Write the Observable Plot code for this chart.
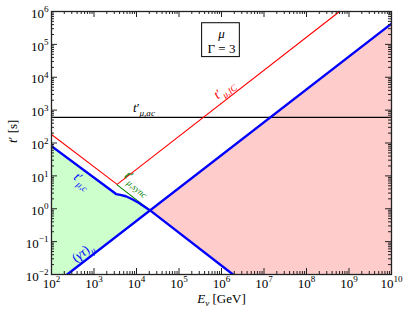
<!DOCTYPE html>
<html><head><meta charset="utf-8">
<script src="https://cdn.jsdelivr.net/npm/d3@7"></script>
<script src="https://cdn.jsdelivr.net/npm/@observablehq/plot@0.6"></script>
<style>
body{margin:0;background:#fff}
#chart svg, #chart svg text, #chart svg tspan { font-family: "Liberation Serif", "DejaVu Serif", serif !important; }
</style>
</head><body><div id="chart"></div>
<script>
// ---- data ----
const E_cool = [1e2, 3.31e3, 4.17e3, 5.62e3, 7.94e3, 1.12e4, 2.09e4, 1.86e6];
const t_cool = [80, 2.8, 2.63, 2.4, 1.95, 1.52, 0.89, 0.01];
const E_ic = [1e2, 3.5e3, 6e8];
const t_ic = [182, 5.5, 1e6];
const E_sync = [3.5e3, 2.09e4];
const t_sync = [5.3, 0.89];
const E_decay = [234, 1e10];
const t_decay = [0.01, 4.27e5];
const t_ac = [600];
const E_green = [1e2, 234, 3.31e3, 4.17e3, 5.62e3, 7.94e3, 1.12e4, 2.09e4];
const green_low = [0.01, 0.01, 0.141, 0.178, 0.251, 0.355, 0.5, 0.89];
const green_high = [80, 35, 2.8, 2.63, 2.4, 1.95, 1.52, 0.89];
const E_pink = [2.09e4, 1.86e6, 1e10];
const pink_low = [0.89, 0.01, 0.01];
const pink_high = [0.89, 79, 4.27e5];
const xTickExp = [2, 3, 4, 5, 6, 7, 8, 9, 10];
const yTickExp = [-2, -1, 0, 1, 2, 3, 4, 5, 6];

// ---- build ----
const W = 340, H = 263, FS = 13;
const xMajor = xTickExp.map(e => 10 ** e);
const yMajor = yTickExp.map(e => 10 ** e);
const minorOf = exps => exps.slice(0, -1).flatMap(e => [2,3,4,5,6,7,8,9].map(m => m * 10 ** e));
const xMinor = minorOf(xTickExp), yMinor = minorOf(yTickExp);
const series = (xs, ys) => xs.map((x, i) => ({x, y: ys[i]}));
const band = (xs, lo, hi) => xs.map((x, i) => ({x, lo: lo[i], hi: hi[i]}));
const expStr = e => String(e).replace("-", "\u2212");
const tk = "#222";

const chart = Plot.plot({
  width: 407, height: 314,
  marginLeft: 51, marginRight: 16, marginTop: 11, marginBottom: 40,
  style: {fontFamily: "Liberation Serif, serif", fontSize: FS + "px", background: "#fff"},
  x: {type: "log", domain: [1e2, 1e10]},
  y: {type: "log", domain: [1e-2, 1e6]},
  marks: [
    Plot.areaY(band(E_green, green_low, green_high), {x: "x", y1: "lo", y2: "hi", fill: "#ccffcc"}),
    Plot.areaY(band(E_pink, pink_low, pink_high), {x: "x", y1: "lo", y2: "hi", fill: "#ffcccc"}),
    Plot.ruleY(t_ac, {stroke: "#000", strokeWidth: 1.2}),
    Plot.line(series(E_ic, t_ic), {x: "x", y: "y", stroke: "#ff0000", strokeWidth: 1.1, clip: true}),
    Plot.line(series(E_sync, t_sync), {x: "x", y: "y", stroke: "#008000", strokeWidth: 1.1}),
    Plot.line(series(E_cool, t_cool), {x: "x", y: "y", stroke: "#0000ff", strokeWidth: 2.4, clip: true}),
    Plot.line(series(E_decay, t_decay), {x: "x", y: "y", stroke: "#0000ff", strokeWidth: 2.4, clip: true}),
    // ticks (inward, all sides)
    Plot.ruleX(xMajor, {insetTop: H - 6, stroke: tk}),
    Plot.ruleX(xMajor, {insetBottom: H - 6, stroke: tk}),
    Plot.ruleX(xMinor, {insetTop: H - 3, stroke: tk}),
    Plot.ruleX(xMinor, {insetBottom: H - 3, stroke: tk}),
    Plot.ruleY(yMajor, {insetRight: W - 6, stroke: tk}),
    Plot.ruleY(yMajor, {insetLeft: W - 6, stroke: tk}),
    Plot.ruleY(yMinor, {insetRight: W - 3, stroke: tk}),
    Plot.ruleY(yMinor, {insetLeft: W - 3, stroke: tk}),
    Plot.frame({stroke: tk, strokeWidth: 1.3}),
    // tick labels
    Plot.axisX(xMajor, {tickSize: 0, tickPadding: 4, label: null, fontSize: FS,
      tickFormat: d => `10^{${expStr(Math.round(Math.log10(d)))}}`}),
    Plot.axisY(yMajor, {tickSize: 0, tickPadding: 3, label: null, fontSize: FS, dy: 2,
      tickFormat: d => `10^{${expStr(Math.round(Math.log10(d)))}}`}),
    // axis labels
    Plot.text(["$E$_{$ν$} [GeV]"], {frameAnchor: "bottom", dy: 28, fontSize: FS}),
    Plot.text(["$t$′ [s]"], {frameAnchor: "left", dx: -39, rotate: -90, fontSize: FS}),
    // annotations
    Plot.text(["$t$′_{$μ,ac$}"], {x: 1.5e4, y: 1150, fill: "#000", fontSize: FS}),
    Plot.text(["$t$′_{$μ,IC$}"], {x: 1.15e6, y: 4300, fill: "#ff0000", rotate: -37.7, fontSize: FS}),
    Plot.text(["$t$′_{$μ,c$}"], {x: 535, y: 7.2, fill: "#0000ff", rotate: 37.7, fontSize: FS}),
    Plot.text(["$t$′_{$μ,sync$}"], {x: 1.07e4, y: 6.1, fill: "#008000", rotate: 40, fontSize: FS}),
    Plot.text(["($γτ$)_{$μ$}"], {x: 536, y: 0.047, fill: "#0000ff", rotate: -37.7, fontSize: FS}),
    Plot.rect([0], {x1: 3.5e5, x2: 2.7e6, y1: 4.1e4, y2: 4.4e5, fill: "none", stroke: "#000", strokeWidth: 1}),
    Plot.text(["$μ$"], {x: 1e6, y: 2.1e5, fontSize: FS}),
    Plot.text(["Γ = 3"], {x: 1e6, y: 7.5e4, fontSize: FS})
  ]
});
document.getElementById("chart").appendChild(chart);

// ---- light TeX-like formatting into tspans ----
function parseTex(s) {
  const parts = []; let it = false, buf = "", i = 0;
  const flush = () => { if (buf) { parts.push({t: buf, it, pos: 0}); buf = ""; } };
  while (i < s.length) {
    const c = s[i];
    if (c === "$") { flush(); it = !it; i++; }
    else if (c === "^" || c === "_") {
      flush(); i++; let g;
      if (s[i] === "{") { const j = s.indexOf("}", i); g = s.slice(i + 1, j); i = j + 1; }
      else { g = s[i]; i++; }
      const gi = g.includes("$"); g = g.replace(/\$/g, "");
      parts.push({t: g, it: gi, pos: c === "^" ? 1 : -1});
    } else { buf += c; i++; }
  }
  flush(); return parts;
}
const NS = "http://www.w3.org/2000/svg";
chart.querySelectorAll("text").forEach(el => {
  el.setAttribute("font-family", "Liberation Serif, serif");
  const s = el.textContent;
  if (!/[\^_$]/.test(s)) return;
  const fs = FS;
  const parts = parseTex(s);
  el.textContent = "";
  let cur = 0;
  for (const p of parts) {
    const ts = document.createElementNS(NS, "tspan");
    const target = p.pos === 1 ? -0.42 * fs : p.pos === -1 ? 0.3 * fs : 0;
    if (target !== cur) ts.setAttribute("dy", (target - cur) + "px");
    cur = target;
    if (p.pos) ts.setAttribute("font-size", (0.7 * fs) + "px");
    if (p.it) ts.setAttribute("font-style", "italic");
    ts.textContent = p.t;
    el.appendChild(ts);
  }
});
</script>
</body></html>
